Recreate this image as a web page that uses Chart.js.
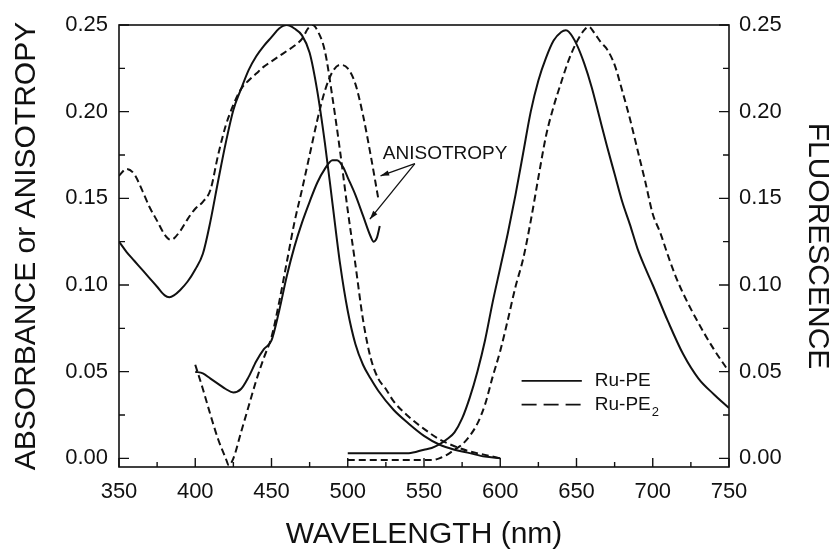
<!DOCTYPE html>
<html>
<head>
<meta charset="utf-8">
<script src="https://cdn.jsdelivr.net/npm/chart.js@4.4.1/dist/chart.umd.min.js"></script>
<style>
  html, body { margin: 0; padding: 0; background: #fff; }
</style>
</head>
<body>
<canvas id="spectra" width="835" height="555"></canvas>
<script>
const xTicks = [350, 400, 450, 500, 550, 600, 650, 700, 750];
const yTicks = [0, 0.05, 0.10, 0.15, 0.20, 0.25];

// absorbance, left axis
const absPeX = [350, 355, 360, 365, 370, 375, 380, 383, 386, 390, 395, 400, 405, 410, 415, 420, 425, 430, 435, 440, 445, 450, 455, 460, 465, 470, 475, 480, 485, 490, 495, 500, 505, 510, 515, 520, 530, 540, 550, 560, 570, 580, 590, 600];
const absPeY = [0.125, 0.119, 0.114, 0.109, 0.104, 0.099, 0.094, 0.093, 0.094, 0.097, 0.102, 0.109, 0.118, 0.137, 0.160, 0.182, 0.201, 0.213, 0.224, 0.232, 0.238, 0.243, 0.248, 0.250, 0.248, 0.244, 0.234, 0.212, 0.182, 0.147, 0.112, 0.085, 0.066, 0.054, 0.046, 0.039, 0.028, 0.020, 0.013, 0.008, 0.005, 0.003, 0.001, 0.000];

const absPe2X = [350, 355, 360, 365, 370, 375, 380, 384, 390, 395, 400, 405, 410, 415, 420, 425, 430, 435, 440, 445, 450, 455, 460, 465, 470, 474, 477, 480, 485, 490, 495, 500, 505, 510, 515, 520, 525, 530, 540, 550, 560, 570, 580, 590, 600];
const absPe2Y = [0.163, 0.167, 0.164, 0.155, 0.145, 0.137, 0.129, 0.126, 0.131, 0.138, 0.144, 0.148, 0.155, 0.175, 0.192, 0.204, 0.213, 0.218, 0.222, 0.226, 0.229, 0.232, 0.235, 0.238, 0.242, 0.248, 0.250, 0.247, 0.235, 0.208, 0.177, 0.143, 0.112, 0.080, 0.058, 0.046, 0.040, 0.033, 0.024, 0.017, 0.011, 0.007, 0.004, 0.002, 0.000];

// anisotropy, left axis
const aniPeX = [400, 405, 410, 415, 420, 425, 430, 435, 440, 445, 450, 455, 460, 465, 470, 475, 480, 485, 490, 493, 497, 500, 505, 510, 515, 517, 519, 521];
const aniPeY = [0.050, 0.049, 0.046, 0.043, 0.040, 0.038, 0.040, 0.047, 0.056, 0.063, 0.068, 0.085, 0.105, 0.122, 0.136, 0.148, 0.159, 0.167, 0.172, 0.172, 0.168, 0.162, 0.152, 0.140, 0.128, 0.125, 0.127, 0.134];

const aniPe2X = [400, 405, 410, 415, 420, 422, 425, 430, 435, 440, 445, 450, 455, 460, 465, 470, 475, 480, 485, 490, 495, 500, 505, 510, 515, 520];
const aniPe2Y = [0.054, 0.040, 0.025, 0.011, 0.000, -0.004, 0.000, 0.015, 0.030, 0.045, 0.058, 0.070, 0.090, 0.113, 0.136, 0.155, 0.175, 0.195, 0.212, 0.223, 0.227, 0.225, 0.216, 0.198, 0.175, 0.150];

// fluorescence, right axis
const fluPeX = [500, 510, 520, 530, 540, 550, 555, 560, 565, 570, 575, 580, 585, 590, 595, 600, 605, 610, 615, 620, 625, 630, 635, 640, 643, 645, 650, 655, 660, 665, 670, 675, 680, 685, 690, 695, 700, 710, 720, 730, 740, 750];
const fluPeY = [0.003, 0.003, 0.003, 0.003, 0.003, 0.005, 0.006, 0.008, 0.011, 0.015, 0.023, 0.035, 0.050, 0.068, 0.090, 0.110, 0.130, 0.152, 0.176, 0.200, 0.218, 0.231, 0.241, 0.246, 0.247, 0.246, 0.239, 0.228, 0.214, 0.197, 0.180, 0.164, 0.148, 0.135, 0.121, 0.110, 0.100, 0.079, 0.060, 0.046, 0.037, 0.029];

const fluPe2X = [500, 520, 540, 555, 560, 565, 570, 575, 580, 585, 590, 595, 600, 605, 610, 615, 620, 625, 630, 635, 640, 645, 650, 655, 658, 662, 666, 670, 675, 680, 685, 690, 695, 700, 705, 710, 715, 720, 730, 740, 750];
const fluPe2Y = [-0.001, -0.001, -0.001, -0.001, 0.000, 0.002, 0.005, 0.008, 0.013, 0.020, 0.031, 0.047, 0.062, 0.080, 0.099, 0.115, 0.137, 0.162, 0.186, 0.203, 0.217, 0.230, 0.240, 0.247, 0.249, 0.245, 0.240, 0.236, 0.227, 0.212, 0.196, 0.178, 0.160, 0.141, 0.130, 0.117, 0.105, 0.095, 0.078, 0.063, 0.050];

const legendNames = ['Ru-PE', 'Ru-PE'];
const INK = '#111';
const SOLID = [];
const DASH = [7, 4];
const FONT = '"Liberation Sans", Arial, sans-serif';

Chart.defaults.font.family = FONT;

function pts(xs, ys) {
  return xs.map((x, i) => ({ x: x, y: ys[i] }));
}

function line(label, xs, ys, dash, axis) {
  return {
    label: label,
    data: pts(xs, ys),
    yAxisID: axis,
    borderColor: INK,
    borderWidth: 2,
    borderDash: dash,
    pointRadius: 0,
    fill: false,
    cubicInterpolationMode: 'monotone'
  };
}

// inward tick marks, frame, annotation and legend
const decorations = {
  id: 'decorations',
  afterDatasetsDraw(chart) {
    const { ctx, chartArea: a, scales } = chart;
    const sx = scales.x, sy = scales.y, sy2 = scales.y2;
    ctx.save();
    ctx.strokeStyle = INK;
    ctx.fillStyle = INK;
    ctx.lineWidth = 1.6;
    ctx.setLineDash([]);
    ctx.strokeRect(a.left, a.top, a.right - a.left, a.bottom - a.top);

    ctx.lineWidth = 1.4;
    ctx.beginPath();
    xTicks.forEach((v, i) => {
      const px = sx.getPixelForValue(v);
      ctx.moveTo(px, a.bottom); ctx.lineTo(px, a.bottom - 9);
      if (i < xTicks.length - 1) {
        const mx = sx.getPixelForValue((v + xTicks[i + 1]) / 2);
        ctx.moveTo(mx, a.bottom); ctx.lineTo(mx, a.bottom - 5);
      }
    });
    yTicks.forEach((v, i) => {
      const py = sy.getPixelForValue(v);
      ctx.moveTo(a.left, py); ctx.lineTo(a.left + 10, py);
      const py2 = sy2.getPixelForValue(v);
      ctx.moveTo(a.right, py2); ctx.lineTo(a.right - 10, py2);
      if (i < yTicks.length - 1) {
        const m = (v + yTicks[i + 1]) / 2;
        ctx.moveTo(a.left, sy.getPixelForValue(m)); ctx.lineTo(a.left + 6, sy.getPixelForValue(m));
        ctx.moveTo(a.right, sy2.getPixelForValue(m)); ctx.lineTo(a.right - 6, sy2.getPixelForValue(m));
      }
    });
    ctx.stroke();

    // ANISOTROPY note with two arrows
    const from = [544, 0.170];
    const tips = [[521.5, 0.163], [514.5, 0.138]];
    ctx.lineWidth = 1.3;
    tips.forEach(t => {
      const x0 = sx.getPixelForValue(from[0]), y0 = sy.getPixelForValue(from[1]);
      const x1 = sx.getPixelForValue(t[0]), y1 = sy.getPixelForValue(t[1]);
      ctx.beginPath();
      ctx.moveTo(x0, y0); ctx.lineTo(x1, y1);
      ctx.stroke();
      const ang = Math.atan2(y1 - y0, x1 - x0);
      ctx.beginPath();
      ctx.moveTo(x1, y1);
      ctx.lineTo(x1 - 9 * Math.cos(ang - 0.3), y1 - 9 * Math.sin(ang - 0.3));
      ctx.lineTo(x1 - 9 * Math.cos(ang + 0.3), y1 - 9 * Math.sin(ang + 0.3));
      ctx.closePath();
      ctx.fill();
    });
    ctx.font = '19px ' + FONT;
    ctx.textAlign = 'left';
    ctx.textBaseline = 'middle';
    ctx.fillText('ANISOTROPY', sx.getPixelForValue(523), sy.getPixelForValue(0.176));

    // legend
    const rows = [[0.0447, SOLID], [0.031, [15, 7]]];
    rows.forEach((r, i) => {
      const py = sy2.getPixelForValue(r[0]);
      ctx.beginPath();
      ctx.setLineDash(r[1]);
      ctx.lineWidth = 1.6;
      ctx.moveTo(sx.getPixelForValue(614), py);
      ctx.lineTo(sx.getPixelForValue(653.5), py);
      ctx.stroke();
      ctx.setLineDash([]);
      ctx.font = '19px ' + FONT;
      const tx = sx.getPixelForValue(662);
      ctx.fillText(legendNames[i], tx, py);
      if (i === 1) {
        const w = ctx.measureText(legendNames[i]).width;
        ctx.font = '13px ' + FONT;
        ctx.fillText('2', tx + w + 1, py + 8);
      }
    });
    ctx.restore();
  }
};

function yAxis(side, title, width, pad, titlePad) {
  return {
    type: 'linear',
    position: side,
    min: -0.005,
    max: 0.25,
    afterBuildTicks: s => { s.ticks = yTicks.map(v => ({ value: v })); },
    afterFit: s => { s.width = width; },
    grid: { display: false, drawTicks: false },
    border: { display: false },
    ticks: {
      padding: pad,
      color: INK,
      font: { size: 22 },
      callback: v => v.toFixed(2)
    },
    title: {
      display: true,
      text: title,
      color: INK,
      font: { size: 30 },
      padding: { top: titlePad, bottom: 0 }
    }
  };
}

new Chart(document.getElementById('spectra'), {
  type: 'line',
  data: {
    datasets: [
      line('Ru-PE absorbance', absPeX, absPeY, SOLID, 'y'),
      line('Ru-PE2 absorbance', absPe2X, absPe2Y, DASH, 'y'),
      line('Ru-PE anisotropy', aniPeX, aniPeY, SOLID, 'y'),
      line('Ru-PE2 anisotropy', aniPe2X, aniPe2Y, DASH, 'y'),
      line('Ru-PE fluorescence', fluPeX, fluPeY, SOLID, 'y2'),
      line('Ru-PE2 fluorescence', fluPe2X, fluPe2Y, DASH, 'y2')
    ]
  },
  options: {
    responsive: false,
    animation: false,
    layout: { padding: { top: 25, left: 0, right: 0, bottom: 0 } },
    plugins: {
      legend: { display: false },
      tooltip: { enabled: false }
    },
    scales: {
      x: {
        type: 'linear',
        min: 350,
        max: 750,
        afterBuildTicks: s => { s.ticks = xTicks.map(v => ({ value: v })); },
        afterFit: s => { s.height = 88; },
        grid: { display: false, drawTicks: false },
        border: { display: false },
        ticks: {
          padding: 12,
          color: INK,
          font: { size: 22 },
          maxRotation: 0,
          autoSkip: false
        },
        title: {
          display: true,
          text: 'WAVELENGTH (nm)',
          color: INK,
          font: { size: 30 },
          padding: { top: 0, bottom: 2 }
        }
      },
      y: yAxis('left', 'ABSORBANCE or ANISOTROPY', 119, 11, 9),
      y2: yAxis('right', 'FLUORESCENCE', 106, 10, 0)
    }
  },
  plugins: [decorations]
});
</script>
</body>
</html>
